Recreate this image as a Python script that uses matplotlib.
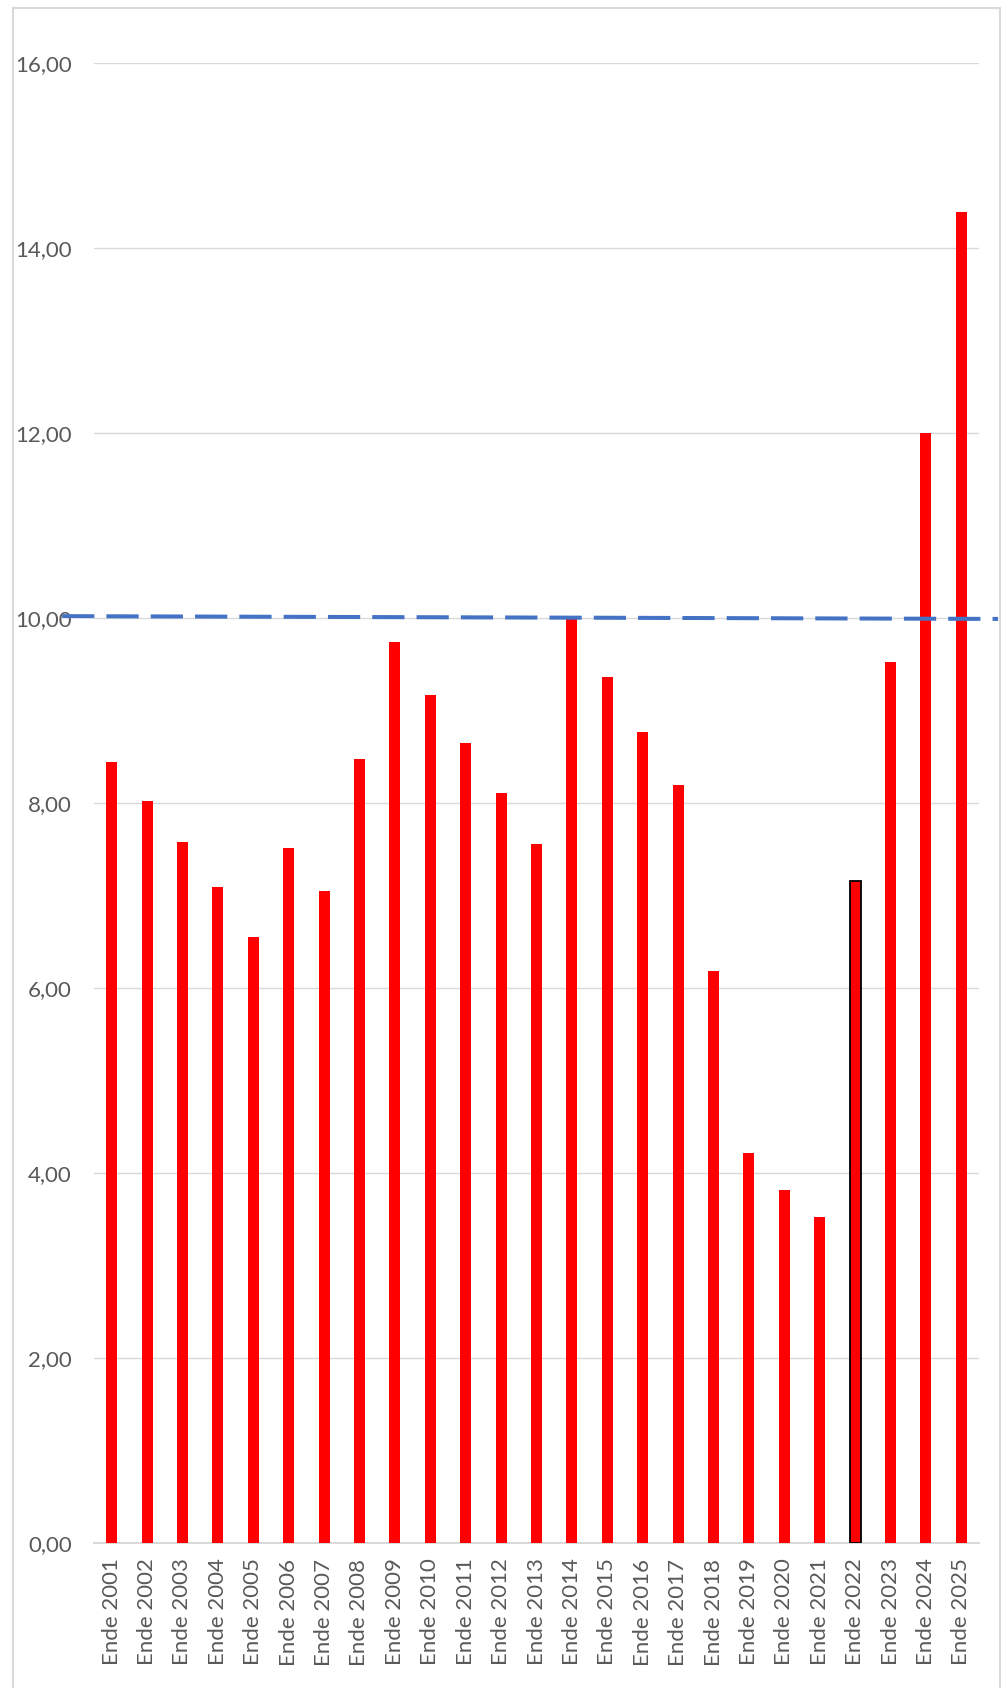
import matplotlib.pyplot as plt
from matplotlib.patches import Rectangle
from matplotlib.ticker import FuncFormatter

# Daten
jahre = ['Ende ' + str(j) for j in range(2001, 2026)]
werte = [8.44, 8.02, 7.58, 7.09, 6.55, 7.51, 7.05, 8.48, 9.74, 9.17,
         8.65, 8.11, 7.56, 10.00, 9.36, 8.77, 8.19, 6.18, 4.22, 3.82,
         3.53, 7.16, 9.52, 12.00, 14.39]
markiert = 'Ende 2022'
referenz = [10.02, 9.99]
y_ticks = [0, 2, 4, 6, 8, 10, 12, 14, 16]

plt.rcParams['font.family'] = ['Lato', 'DejaVu Sans']

fig = plt.figure(figsize=(10.03, 16.88), dpi=100)
ax = fig.add_axes([0.0937, 0.0857, 0.8824, 0.8771])

# Rahmen um das Diagramm
fig.patches.append(Rectangle((13 / 1003, -0.01), (1000 - 13) / 1003, 1.01 - 8 / 1688,
                             transform=fig.transFigure, fill=False,
                             edgecolor='#d9d9d9', linewidth=1.5))

x = list(range(len(jahre)))
farben_rand = ['black' if j == markiert else 'none' for j in jahre]
breiten = [1.3 if j == markiert else 0 for j in jahre]
ax.bar(x, werte, width=0.31, color='#ff0000', edgecolor=farben_rand,
       linewidth=breiten, zorder=3)

ax.set_xlim(-0.5, len(jahre) - 0.5)
ax.set_ylim(0, 16)
ax.set_yticks(y_ticks)
ax.yaxis.set_major_formatter(FuncFormatter(lambda v, p: f'{v:.2f}'.replace('.', ',')))
ax.set_xticks(x)
ax.set_xticklabels(jahre, rotation=90)

ax.grid(axis='y', color='#d9d9d9', linewidth=1.0, zorder=0)
for s in ['top', 'right', 'left']:
    ax.spines[s].set_visible(False)
ax.spines['bottom'].set_color('#d9d9d9')
ax.spines['bottom'].set_linewidth(1.5)
ax.tick_params(axis='both', length=0, labelsize=16, colors='#595959')
ax.tick_params(axis='y', pad=16)
ax.tick_params(axis='x', pad=11)

# Gestrichelte Referenzlinie (geht ueber die Achsen hinaus)
x0 = -0.5 - 0.036 * len(jahre)
x1 = len(jahre) - 0.5 + 0.0215 * len(jahre)
ax.plot([x0, x1], referenz, color='#4472c4', linewidth=2.9,
        dashes=(8, 3), clip_on=False, zorder=4)

plt.savefig('out.png', dpi=100)
